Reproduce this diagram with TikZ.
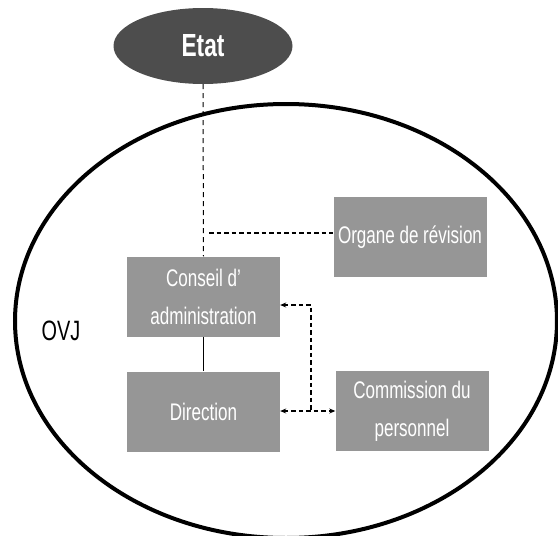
\documentclass[tikz,border=0pt]{standalone}
\usepackage{fontspec}
\setmainfont{Liberation Sans}
\newfontfamily\narrowfont[FakeStretch=0.71]{Liberation Sans}
\usetikzlibrary{arrows.meta,shapes.geometric}
\definecolor{boxgray}{RGB}{150,150,150}
\definecolor{etatgray}{RGB}{77,77,77}
\begin{document}
\begin{tikzpicture}[x=1pt,y=-1pt,
  box/.style={rectangle, fill=boxgray, text=white, minimum width=153pt, minimum height=80pt,
    inner sep=0pt, align=center, font=\narrowfont\fontsize{24}{38}\selectfont},
  dashline/.style={dash pattern=on 4.5pt off 3pt, line width=1.3pt},
  thindash/.style={dash pattern=on 5pt off 4pt, line width=1pt},
  solidline/.style={line width=1pt}]
\useasboundingbox (0,0) rectangle (558,536);
\draw[line width=4pt] (286,321) ellipse [x radius=271pt, y radius=217pt];
\node[ellipse, fill=etatgray, text=white, minimum width=179pt, minimum height=76pt, inner sep=0pt,
  font=\narrowfont\bfseries\fontsize{32}{36}\selectfont] (etat) at (203,46) {Etat};
\node[box] (cons) at (203.5,296.5) {Conseil d’\\administration};
\node[box] (dir) at (203.5,411.5) {Direction};
\node[box] (org) at (410,237) {Organe de révision};
\node[box] (com) at (412,411) {Commission du\\personnel};
\node[font=\narrowfont\fontsize{28}{30}\selectfont] (ovj) at (61,331) {OVJ};
\draw[thindash] (etat.south) -- (cons.north);
\coordinate (j) at (209,233);
\draw[dashline] (j) -- (j -| org.west);
\draw[solidline] (cons.south) -- (dir.north);
\coordinate (c1) at (311,305);
\coordinate (c2) at (311,411);
\draw[dashline, {Stealth[length=6pt,width=5pt]}-] (cons.east |- c1) -- (c1) -- (c2);
\draw[dashline, {Stealth[length=6pt,width=5pt]}-{Stealth[length=6pt,width=5pt]}] (dir.east |- c2) -- (com.west |- c2);
\end{tikzpicture}
\end{document}
